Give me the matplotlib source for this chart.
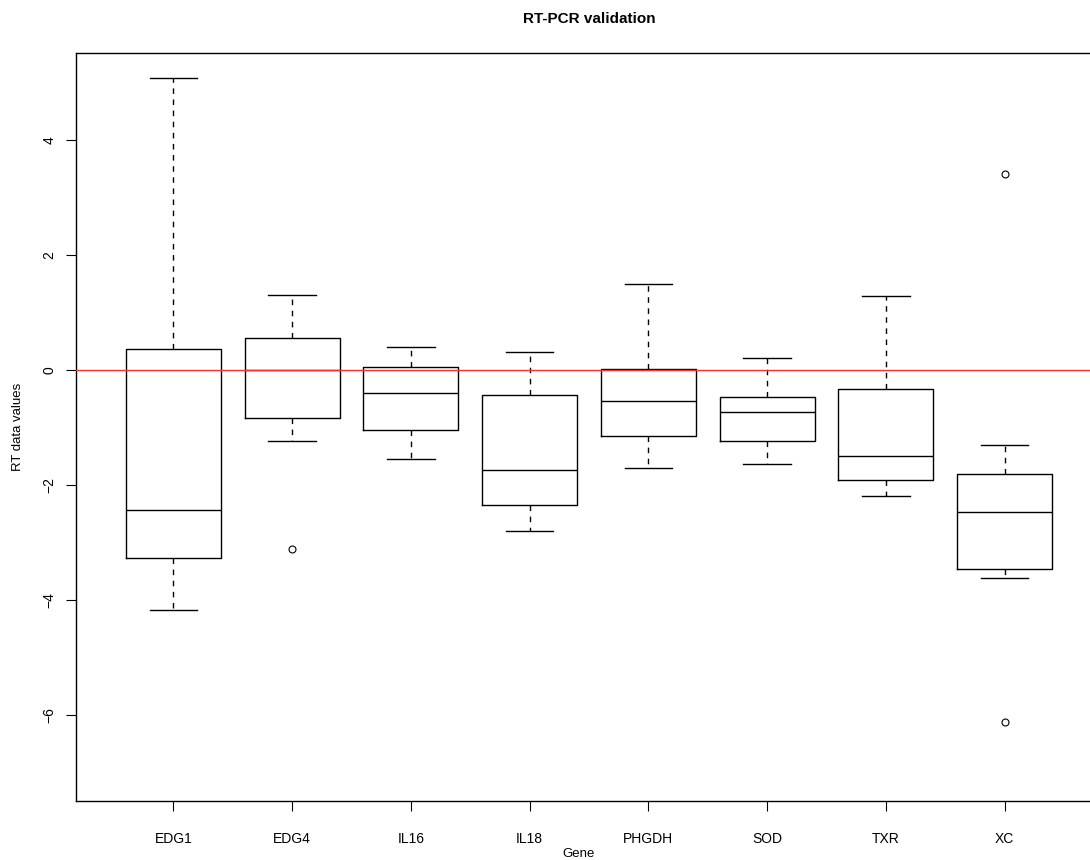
"""RT-PCR validation boxplot."""

import matplotlib

matplotlib.use("Agg")
import matplotlib.pyplot as plt

genes = ["EDG1", "EDG4", "IL16", "IL18", "PHGDH", "SOD", "TXR", "XC"]
whisker_low = [-4.17, -1.24, -1.56, -2.81, -1.70, -1.63, -2.20, -3.63]
q1 = [-3.27, -0.84, -1.04, -2.36, -1.16, -1.24, -1.91, -3.47]
median = [-2.43, 0.00, -0.41, -1.74, -0.55, -0.73, -1.50, -2.47]
q3 = [0.37, 0.55, 0.05, -0.44, 0.02, -0.47, -0.33, -1.81]
whisker_high = [5.08, 1.30, 0.39, 0.31, 1.49, 0.21, 1.28, -1.30]
outliers = [[], [-3.11], [], [], [], [], [], [3.41, -6.12]]

plt.rcParams["font.family"] = ["Liberation Sans", "DejaVu Sans"]

fig = plt.figure(figsize=(10.9, 8.6), dpi=100)
W, H = 1090, 860
ax = fig.add_axes([76 / W, 1 - 801 / H, 1026 / W, 748 / H])

stats = [
    dict(label=g, whislo=lo, q1=a, med=m, q3=b, whishi=hi, fliers=f)
    for g, lo, a, m, b, hi, f in zip(
        genes, whisker_low, q1, median, q3, whisker_high, outliers
    )
]
positions = list(range(1, len(genes) + 1))
ax.bxp(
    stats,
    positions=positions,
    widths=0.8,
    capwidths=0.4,
    boxprops=dict(color="black", linewidth=1.0),
    medianprops=dict(color="black", linewidth=1.0),
    whiskerprops=dict(color="black", linewidth=1.0, linestyle=(0, (4, 4))),
    capprops=dict(color="black", linewidth=1.0),
    flierprops=dict(marker="o", markersize=5, markerfacecolor="none",
                    markeredgecolor="black", markeredgewidth=0.8),
)

ax.axhline(0, color="#ff3030", linewidth=1.0, zorder=5)

ax.set_xlim(0.18, 8.82)
ax.set_ylim(-7.50, 5.51)
ax.set_yticks([-6, -4, -2, 0, 2, 4])
ax.set_xticks(positions)
ax.set_xticklabels(genes)
ax.tick_params(axis="x", length=7, width=0.8, pad=15, labelsize=10)
ax.tick_params(axis="y", length=7, width=0.8, pad=7, labelsize=10)
for lab in ax.get_yticklabels():
    lab.set_rotation(90)
    lab.set_va("center")

for sp in ax.spines.values():
    sp.set_linewidth(1.0)

ax.set_xlabel("Gene", fontsize=9.5)
ax.xaxis.set_label_coords(0.49, -0.071)
ax.xaxis.label.set_va("center")
ax.set_ylabel("RT data values", fontsize=9.5)
ax.yaxis.set_label_coords(-0.057, 0.5)
ax.yaxis.label.set_va("center")

ax.text(0.5, 1 + 34 / 748, "RT-PCR validation", transform=ax.transAxes,
        ha="center", va="center", fontsize=11, fontweight="bold")

fig.savefig("out.png", dpi=100)
